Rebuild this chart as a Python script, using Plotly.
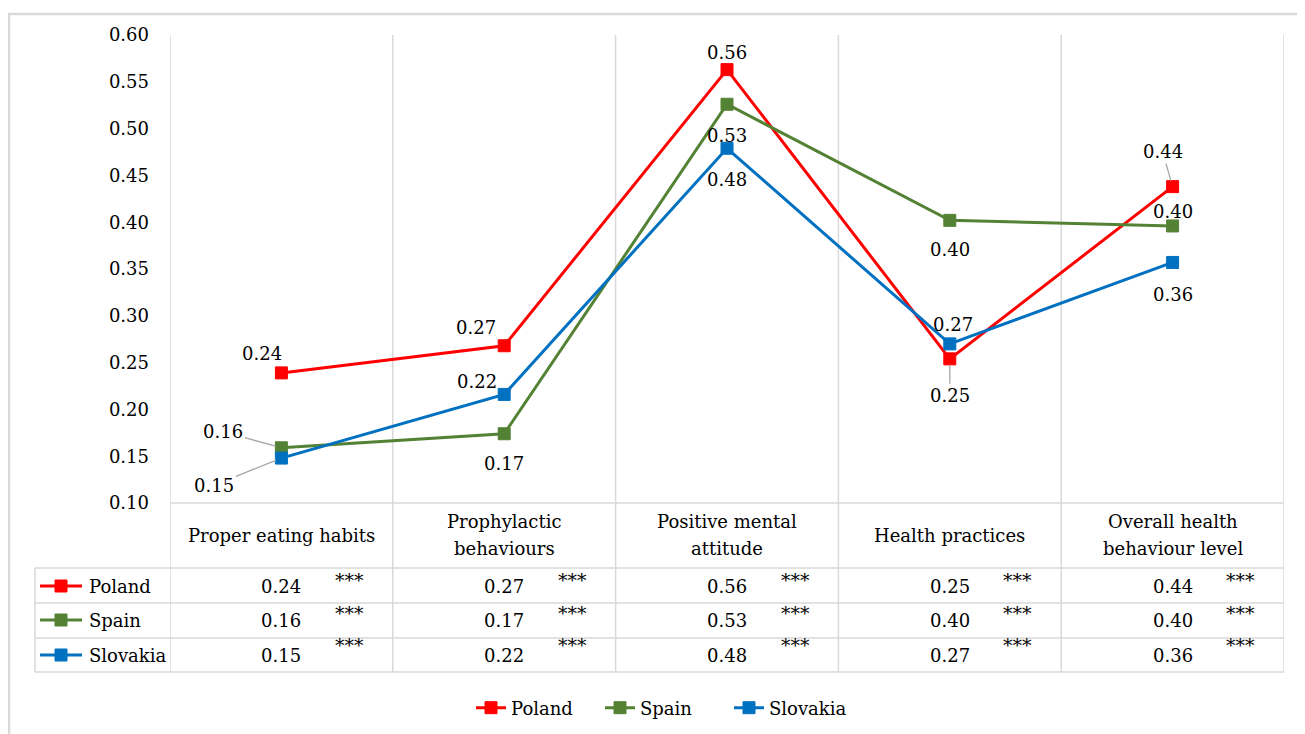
import plotly.graph_objects as go

# ---------------- data ----------------
categories = ["Proper eating habits", "Prophylactic behaviours", "Positive mental attitude",
              "Health practices", "Overall health behaviour level"]
header_labels = ["Proper eating habits", "Prophylactic<br>behaviours", "Positive mental<br>attitude",
                 "Health practices", "Overall health<br>behaviour level"]
series_names = ["Poland", "Spain", "Slovakia"]
poland = [0.239, 0.268, 0.563, 0.254, 0.438]
spain = [0.159, 0.174, 0.526, 0.402, 0.396]
slovakia = [0.148, 0.216, 0.479, 0.270, 0.357]
significance = ["***", "***", "***", "***", "***"]
y_ticks = [0.10, 0.15, 0.20, 0.25, 0.30, 0.35, 0.40, 0.45, 0.50, 0.55, 0.60]

# ---------------- styling ----------------
colors = {"Poland": "#FF0000", "Spain": "#548235", "Slovakia": "#0070C0"}
FONT = "DejaVu Serif"
FS = 18
GRID = "#D9D9D9"
OFF = 8  # page body margin; screen coords -> figure coords
W, H = 1305, 734
SX0, SX1, SY0, SY1 = 170, 1284, 35, 503
L, T = SX0 - OFF, SY0 - OFF
R = W - (SX1 - OFF)
B = H - (SY1 - OFF)
PW, PH = SX1 - SX0, SY1 - SY0


def px_x(px):
    return (px - SX0) / PW


def px_y(py):
    return (SY1 - py) / PH


series_values = {"Poland": poland, "Spain": spain, "Slovakia": slovakia}
xs = list(range(len(categories)))

fig = go.Figure()
for name in series_names:
    fig.add_trace(go.Scatter(
        x=xs, y=series_values[name], name=name, mode="lines+markers",
        line=dict(color=colors[name], width=3),
        marker=dict(symbol="square", size=12, color=colors[name],
                    line=dict(color=colors[name], width=1)),
        cliponaxis=False,
    ))

label_offsets = {
    "Poland": [(-19, -19, False), (-28, -18, False), (0, -17, False), (0, 37, True), (-10, -35, True)],
    "Spain": [(-58, -16, True), (0, 30, False), (0, 31, False), (0, 29, False), (0, -14, False)],
    "Slovakia": [(-67, 27, True), (-27, -13, False), (0, 31, False), (3, -19, False), (0, 32, False)],
}
annotations = []
for name in series_names:
    for i, v in enumerate(series_values[name]):
        dx, dy, leader = label_offsets[name][i]
        txt = f"{v:.2f}"
        if leader:
            annotations.append(dict(
                x=i, y=v, xref="x", yref="y", text=txt, showarrow=True,
                ax=dx, ay=dy, arrowhead=0, arrowwidth=1.3, arrowcolor="#A6A6A6",
                standoff=6, font=dict(family=FONT, size=FS, color="#000")))
        else:
            annotations.append(dict(
                x=i, y=v, xref="x", yref="y", text=txt, showarrow=False,
                xshift=dx, yshift=-dy, font=dict(family=FONT, size=FS, color="#000")))

# table header (each line placed separately for Excel-like line spacing)
for i, lab in enumerate(header_labels):
    lines = lab.split("<br>")
    n = len(lines)
    for k, line in enumerate(lines):
        py = 535 + (k - (n - 1) / 2) * 27
        annotations.append(dict(x=i, y=px_y(py), xref="x", yref="paper", text=line,
                                showarrow=False, yanchor="middle",
                                font=dict(family=FONT, size=FS, color="#000")))
row_y = [px_y(586), px_y(620), px_y(655)]
star_y = [px_y(580), px_y(613), px_y(645)]
for r, name in enumerate(series_names):
    for i, v in enumerate(series_values[name]):
        annotations.append(dict(x=i, y=row_y[r], xref="x", yref="paper", text=f"{v:.2f}",
                                showarrow=False, yanchor="middle",
                                font=dict(family=FONT, size=FS, color="#000")))
        annotations.append(dict(x=i, y=star_y[r], xref="x", yref="paper", text=significance[i],
                                showarrow=False, yanchor="middle", xshift=68,
                                font=dict(family=FONT, size=19, color="#000")))
    annotations.append(dict(x=px_x(87), y=row_y[r], xref="paper", yref="paper", text=name,
                            showarrow=False, xanchor="left", yanchor="middle",
                            font=dict(family=FONT, size=FS, color="#000")))

shapes = []
shapes.append(dict(type="rect", xref="paper", yref="paper", x0=px_x(9), x1=px_x(1340),
                   y0=px_y(760), y1=px_y(14), line=dict(color=GRID, width=2.5), layer="below"))
for i in range(len(categories) + 1):
    shapes.append(dict(type="line", xref="x", yref="paper", x0=i - 0.5, x1=i - 0.5,
                       y0=px_y(672), y1=1, line=dict(color=GRID, width=1.5), layer="below"))
shapes.append(dict(type="line", xref="paper", yref="paper", x0=0, x1=1, y0=0, y1=0,
                   line=dict(color=GRID, width=1.5), layer="below"))
for py in [568, 603, 638, 672]:
    shapes.append(dict(type="line", xref="paper", yref="paper", x0=px_x(35), x1=1,
                       y0=px_y(py), y1=px_y(py), line=dict(color=GRID, width=1.5), layer="below"))
shapes.append(dict(type="line", xref="paper", yref="paper", x0=px_x(35), x1=px_x(35),
                   y0=px_y(672), y1=px_y(568), line=dict(color=GRID, width=1.5), layer="below"))
for r, name in enumerate(series_names):
    yc = row_y[r]
    shapes.append(dict(type="line", xref="paper", yref="paper", x0=px_x(40), x1=px_x(82),
                       y0=yc, y1=yc, line=dict(color=colors[name], width=3)))
    shapes.append(dict(type="rect", xref="paper", yref="paper", x0=px_x(55), x1=px_x(67),
                       y0=yc - 6 / PH, y1=yc + 6 / PH, fillcolor=colors[name],
                       line=dict(color=colors[name], width=1)))

fig.update_layout(
    width=W, height=H,
    margin=dict(l=L, r=R, t=T, b=B),
    paper_bgcolor="white", plot_bgcolor="white",
    font=dict(family=FONT, size=FS, color="#000"),
    showlegend=True,
    legend=dict(orientation="h", x=px_x(471), xanchor="left", y=px_y(708), yanchor="middle",
                font=dict(family=FONT, size=FS, color="#000"), bgcolor="rgba(0,0,0,0)",
                itemwidth=30, entrywidth=84, entrywidthmode="pixels"),
    xaxis=dict(range=[-0.5, len(categories) - 0.5], showgrid=False, zeroline=False,
               showticklabels=False, showline=False, ticks="", fixedrange=True),
    yaxis=dict(range=[0.10, 0.60], tickvals=y_ticks, tickformat=".2f", showgrid=False,
               zeroline=False, showline=False, ticks="", ticklabelstandoff=20,
               tickfont=dict(family=FONT, size=FS, color="#000")),
    annotations=annotations,
    shapes=shapes,
)

fig.write_html("out.html")
